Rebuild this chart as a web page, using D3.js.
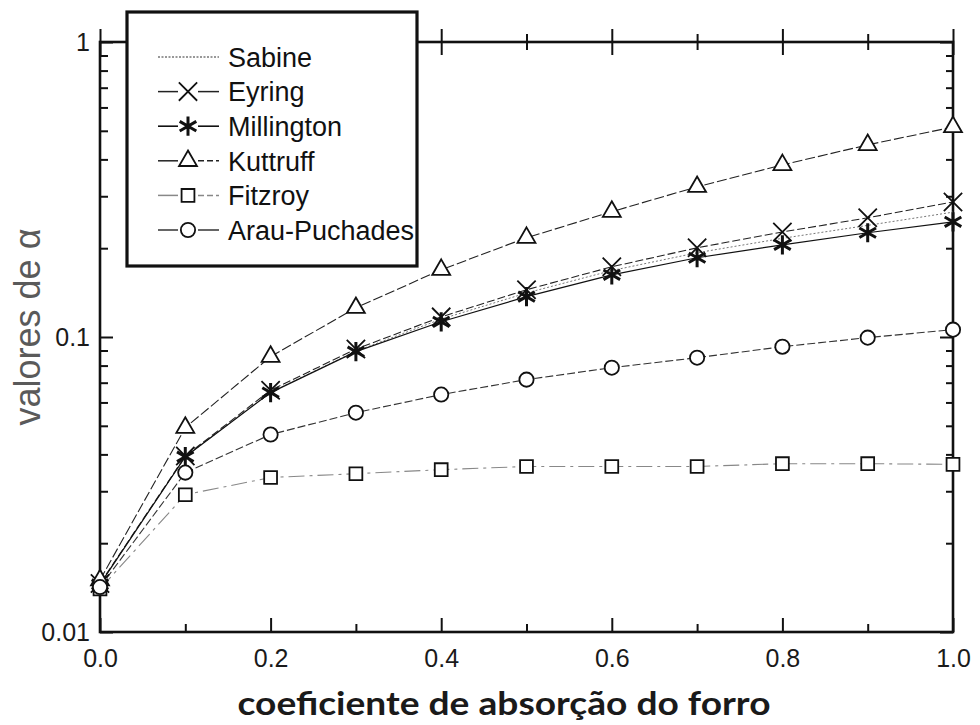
<!DOCTYPE html>
<html>
<head>
<meta charset="utf-8">
<script src="https://cdn.jsdelivr.net/npm/d3@7"></script>
<style>
  body { margin: 0; background: #fff; }
  svg { display: block; }
</style>
</head>
<body>
<div id="chart"></div>
<script>
// absorption coefficient of the ceiling (x)
const xValues = [0.0, 0.1, 0.2, 0.3, 0.4, 0.5, 0.6, 0.7, 0.8, 0.9, 1.0];

// alpha values, one array per formula
const sabine    = [0.0146, 0.0392, 0.0650, 0.0895, 0.115, 0.141, 0.168, 0.193, 0.216, 0.239, 0.265];
const eyring    = [0.0146, 0.0395, 0.0660, 0.0910, 0.117, 0.1446, 0.173, 0.2006, 0.227, 0.2535, 0.287];
const millington = [0.0145, 0.0393, 0.0648, 0.0892, 0.1126, 0.137, 0.1625, 0.1856, 0.2054, 0.2256, 0.2457];
const kuttruff  = [0.0150, 0.0493, 0.0858, 0.1256, 0.169, 0.217, 0.266, 0.323, 0.383, 0.448, 0.515];
const fitzroy   = [0.0140, 0.0292, 0.0334, 0.0344, 0.0355, 0.0364, 0.0364, 0.0364, 0.0372, 0.0372, 0.0370];
const arau      = [0.0142, 0.0347, 0.0467, 0.0554, 0.0638, 0.0717, 0.0787, 0.0851, 0.0927, 0.0995, 0.1059];

const seriesNames = ['Sabine', 'Eyring', 'Millington', 'Kuttruff', 'Fitzroy', 'Arau-Puchades'];
const seriesValues = [sabine, eyring, millington, kuttruff, fitzroy, arau];

const xMajorTicks = [0, 0.2, 0.4, 0.6, 0.8, 1.0];
const xMinorTicks = [0.1, 0.3, 0.5, 0.7, 0.9];
const yMajorTicks = [0.01, 0.1, 1];
const yMinorTicks = [0.02, 0.03, 0.04, 0.05, 0.06, 0.07, 0.08, 0.09, 0.2, 0.3, 0.4, 0.5, 0.6, 0.7, 0.8, 0.9];

const width = 980, height = 725;
const plotLeft = 100, plotRight = 953, plotTop = 42, plotBottom = 632;

const svg = d3.select('#chart')
  .append('svg')
  .attr('width', width)
  .attr('height', height);

const x = d3.scaleLinear().domain([0, 1]).range([plotLeft, plotRight]);
const y = d3.scaleLog().domain([0.01, 1]).range([plotBottom, plotTop]);

// line / marker look for each series
const styles = [
  { stroke: '#777', dash: '2,2', width: 1, symbol: null },
  { stroke: '#222', dash: '8,3', width: 1.1, symbol: d3.symbolTimes, size: 220, fill: 'none', sw: 1.8 },
  { stroke: '#111', dash: null, width: 1.2, symbol: d3.symbolAsterisk, size: 260, fill: 'none', sw: 3 },
  { stroke: '#222', dash: '10,3', width: 1.1, symbol: d3.symbolTriangle2, size: 230, fill: '#fff', sw: 1.8 },
  { stroke: '#888', dash: '16,5,3,5', width: 1.1, symbol: d3.symbolSquare2, size: 210, fill: '#fff', sw: 1.8 },
  { stroke: '#333', dash: '8,3', width: 1.1, symbol: d3.symbolCircle, size: 160, fill: '#fff', sw: 1.8 }
];

const tickFont = '"Liberation Sans", Arial, sans-serif';

// x axis, bottom: ticks point inward, labels below
svg.append('g')
  .attr('transform', 'translate(0,' + plotBottom + ')')
  .call(d3.axisBottom(x).tickValues(xMajorTicks).tickSizeInner(-14).tickSizeOuter(0)
    .tickPadding(17).tickFormat(d3.format('.1f')))
  .call(g => g.select('.domain').remove());
svg.append('g')
  .attr('transform', 'translate(0,' + plotBottom + ')')
  .call(d3.axisBottom(x).tickValues(xMinorTicks).tickSizeInner(-8).tickSizeOuter(0).tickFormat(''))
  .call(g => g.select('.domain').remove());

// x axis, top: ticks cross the frame line
[[8, 13], [-8, -13]].forEach(([minor, major]) => {
  svg.append('g')
    .attr('transform', 'translate(0,' + plotTop + ')')
    .call(d3.axisTop(x).tickValues(xMajorTicks).tickSizeInner(major).tickSizeOuter(0).tickFormat(''))
    .call(g => g.select('.domain').remove());
  svg.append('g')
    .attr('transform', 'translate(0,' + plotTop + ')')
    .call(d3.axisTop(x).tickValues(xMinorTicks).tickSizeInner(minor).tickSizeOuter(0).tickFormat(''))
    .call(g => g.select('.domain').remove());
});

// y axis, left: labels outside, ticks inward
svg.append('g')
  .attr('transform', 'translate(' + plotLeft + ',0)')
  .call(d3.axisLeft(y).tickValues(yMajorTicks).tickSizeInner(-13).tickSizeOuter(0)
    .tickPadding(10).tickFormat(d => String(d)))
  .call(g => g.select('.domain').remove());
svg.append('g')
  .attr('transform', 'translate(' + plotLeft + ',0)')
  .call(d3.axisLeft(y).tickValues(yMinorTicks).tickSizeInner(-8).tickSizeOuter(0).tickFormat(''))
  .call(g => g.select('.domain').remove());

// y axis, right
svg.append('g')
  .attr('transform', 'translate(' + plotRight + ',0)')
  .call(d3.axisRight(y).tickValues(yMajorTicks).tickSizeInner(-13).tickSizeOuter(0).tickFormat(''))
  .call(g => g.select('.domain').remove());
svg.append('g')
  .attr('transform', 'translate(' + plotRight + ',0)')
  .call(d3.axisRight(y).tickValues(yMinorTicks).tickSizeInner(-7).tickSizeOuter(0).tickFormat(''))
  .call(g => g.select('.domain').remove());

svg.selectAll('.tick line').attr('stroke', '#111').attr('stroke-width', 2);
svg.selectAll('.tick text')
  .attr('font-family', tickFont)
  .attr('font-size', 25)
  .attr('fill', '#1a1a1a');

// frame
svg.append('rect')
  .attr('x', plotLeft).attr('y', plotTop)
  .attr('width', plotRight - plotLeft).attr('height', plotBottom - plotTop)
  .attr('fill', 'none')
  .attr('stroke', '#111')
  .attr('stroke-width', 2.6);

// lines
const line = d3.line()
  .x((d, i) => x(xValues[i]))
  .y(d => y(d));

seriesValues.forEach((vals, k) => {
  const s = styles[k];
  svg.append('path')
    .datum(vals)
    .attr('d', line)
    .attr('fill', 'none')
    .attr('stroke', s.stroke)
    .attr('stroke-width', s.width)
    .attr('stroke-dasharray', s.dash);
});

// markers on top of the lines
seriesValues.forEach((vals, k) => {
  const s = styles[k];
  if (!s.symbol) return;
  svg.append('g')
    .selectAll('path')
    .data(vals)
    .enter()
    .append('path')
    .attr('transform', (d, i) => 'translate(' + x(xValues[i]) + ',' + y(d) + ')')
    .attr('d', d3.symbol(s.symbol, s.size))
    .attr('fill', s.fill)
    .attr('stroke', '#111')
    .attr('stroke-width', s.sw);
});

// legend box (sits over the top axis)
const legendX = 127, legendY = 12, legendW = 290, legendH = 254;
const rowStart = 57, rowStep = 34.6;
svg.append('rect')
  .attr('x', legendX).attr('y', legendY)
  .attr('width', legendW).attr('height', legendH)
  .attr('fill', '#fff')
  .attr('stroke', '#111')
  .attr('stroke-width', 3.2);

const legend = svg.append('g')
  .selectAll('g')
  .data(seriesNames)
  .enter()
  .append('g')
  .attr('transform', (d, i) => 'translate(0,' + (rowStart + i * rowStep) + ')');

// sample line: split around the marker, whole for Sabine
legend.each(function (d, i) {
  const g = d3.select(this);
  const s = styles[i];
  const segs = s.symbol ? [[158, 178], [198, 219]] : [[158, 219]];
  segs.forEach(([a, b], j) => {
    g.append('line')
      .attr('x1', a).attr('x2', b)
      .attr('y1', 0).attr('y2', 0)
      .attr('stroke', s.stroke)
      .attr('stroke-width', s.width + 0.4)
      .attr('stroke-dasharray', i === 0 ? '2,1.5' : (j === 1 && (i === 3 || i === 4) ? '6,3' : null));
  });
  if (s.symbol) {
    g.append('path')
      .attr('transform', 'translate(188,0)')
      .attr('d', d3.symbol(s.symbol, s.size))
      .attr('fill', s.fill)
      .attr('stroke', '#111')
      .attr('stroke-width', s.sw);
  }
});

legend.append('text')
  .attr('x', 228)
  .attr('y', 0)
  .attr('dy', '0.36em')
  .attr('font-family', tickFont)
  .attr('font-size', 27)
  .attr('fill', '#111')
  .text(d => d);

// axis titles
svg.append('text')
  .attr('transform', 'translate(40,327) rotate(-90)')
  .attr('text-anchor', 'middle')
  .attr('font-family', tickFont)
  .attr('font-size', 36)
  .attr('fill', '#5a5a5a')
  .text('valores de α');

const xTitle = svg.append('text')
  .attr('x', 504)
  .attr('y', 715)
  .attr('text-anchor', 'middle')
  .attr('font-family', 'Lato, "Open Sans", sans-serif')
  .attr('font-weight', 'bold')
  .attr('font-size', 32)
  .attr('fill', '#1a1a1a')
  .text('coeficiente de absorção do forro');
xTitle.attr('textLength', 533).attr('lengthAdjust', 'spacingAndGlyphs');
</script>
</body>
</html>
